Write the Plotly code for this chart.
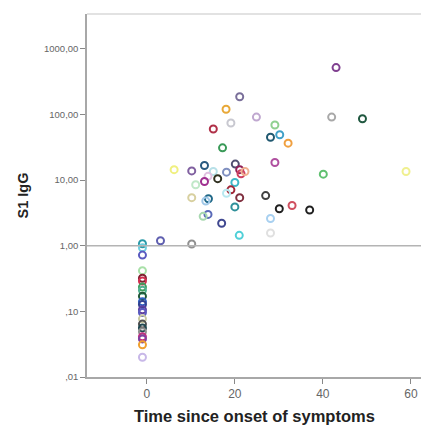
import plotly.graph_objects as go

# Days since onset of symptoms
days = [21.1, 18.0, 24.9, 19.1, 15.1, 17.2, 6.2, 10.2, 13.1, 15.1,
        18.1, 20.1, 21.1, 21.4, 22.3, 13.9, 13.1, 16.1, 11.1, 20.0,
        19.1, 21.1, 10.2, 14.0, 13.4, 18.1, 20.0, 13.9, 12.8, 17.0,
        21.0, 3.1, 10.2, 29.1, 28.1, 30.2, 32.1, 42.0, 49.0, 29.1,
        43.0, 40.1, 27.0, 30.1, 33.0, 37.0, 28.1, 28.1, 58.9,
        -1, -1, -1, -1, -1, -1, -1, -1, -1, -1,
        -1, -1, -1, -1, -1, -1, -1, -1, -1, -1, -1]
# S1 IgG values
igg = [186, 120, 91, 74, 60, 31, 14.4, 13.8, 16.7, 13.5,
       13.2, 17.5, 14.4, 12.5, 13.5, 11.4, 9.5, 10.5, 8.5, 9.2,
       7.1, 5.4, 5.4, 5.2, 4.8, 6.3, 3.9, 3.0, 2.8, 2.2,
       1.44, 1.19, 1.06, 69, 45, 49, 36.5, 91, 86, 18.5,
       517, 12.3, 5.8, 3.66, 4.1, 3.5, 2.6, 1.56, 13.5,
       1.07, 0.93, 0.72, 0.417, 0.32, 0.29, 0.234, 0.21, 0.17, 0.14,
       0.127, 0.106, 0.096, 0.077, 0.064, 0.056, 0.049, 0.041, 0.038, 0.031, 0.020]
colors = ["#7a6f9a", "#e8a838", "#c0a8d0", "#c8c8d0", "#b03048", "#3a9a58", "#f0f080", "#8060a0", "#2a5a80", "#b8e0e8",
          "#8090c0", "#505070", "#902058", "#d04060", "#f0b090", "#e0c0e0", "#a03090", "#303020", "#c0e8c8", "#40b8c8",
          "#a02838", "#803040", "#d8d0a0", "#206888", "#a0c8e8", "#b8e8f0", "#30909a", "#5a6ab8", "#a8d8b0", "#404890",
          "#50d0d8", "#6060b0", "#909090", "#90d090", "#205870", "#40a0c8", "#f0a040", "#a8a8a8", "#205840", "#b050a0",
          "#804090", "#60c070", "#404040", "#202020", "#d05060", "#202020", "#a8d0f0", "#e0e0e0", "#f0f090",
          "#2a9aa8", "#70d0e0", "#5b5bc0", "#a8e0a8", "#802030", "#d03050", "#40a060", "#50b090", "#205838", "#3060c0",
          "#304090", "#6040a0", "#5a5ac0", "#c8c8a0", "#505050", "#204850", "#909090", "#c03080", "#8040a0", "#f0a030", "#c8b8e8"]

y_ticks = [0.01, 0.1, 1, 10, 100, 1000]
y_labels = [",01", ",10", "1,00", "10,00", "100,00", "1000,00"]
x_ticks = [0, 20, 40, 60]
x_labels = ["0", "20", "40", "60"]
ref_value = 1

fig = go.Figure()
fig.add_trace(go.Scatter(
    x=days, y=igg, mode="markers",
    marker=dict(symbol="circle-open", size=7, color=colors, line=dict(width=2, color=colors)),
    showlegend=False, hoverinfo="x+y"))

fig.add_shape(type="line", xref="paper", yref="y", x0=0, x1=1, y0=ref_value, y1=ref_value,
              line=dict(color="#b4b4b4", width=1.5))
fig.add_shape(type="line", xref="paper", yref="paper", x0=0, x1=1, y0=1, y1=1,
              line=dict(color="#d8d8d8", width=1.5))

fig.update_layout(
    width=421, height=427,
    margin=dict(l=87, r=0, t=14, b=50),
    paper_bgcolor="white", plot_bgcolor="white",
    font=dict(family="Arial, Liberation Sans, sans-serif", color="#555555"),
    xaxis=dict(range=[-13.6, 62.3], tickvals=x_ticks, ticktext=x_labels,
               showgrid=False, zeroline=False, showline=True, linecolor="#a8a8a8", linewidth=1.5,
               ticks="outside", ticklen=5, tickcolor="#888888", tickfont=dict(size=12, color="#666666")),
    yaxis=dict(type="log", range=[-2, 3.53], tickvals=y_ticks, ticktext=y_labels,
               showgrid=False, zeroline=False, showline=True, linecolor="#a8a8a8", linewidth=1.5,
               ticks="outside", ticklen=5, tickcolor="#888888", tickfont=dict(size=9.5, color="#666666")),
    annotations=[
        dict(text="<b>Time since onset of symptoms</b>", xref="paper", yref="paper", x=0.5, y=0,
             yshift=-39, showarrow=False, yanchor="middle", font=dict(size=16.5, color="#222222")),
        dict(text="<b>S1 IgG</b>", xref="paper", yref="paper", x=0, y=0.5, xshift=-65,
             showarrow=False, textangle=-90, xanchor="center", font=dict(size=14.5, color="#222222")),
    ],
)

fig.write_html("out.html")
